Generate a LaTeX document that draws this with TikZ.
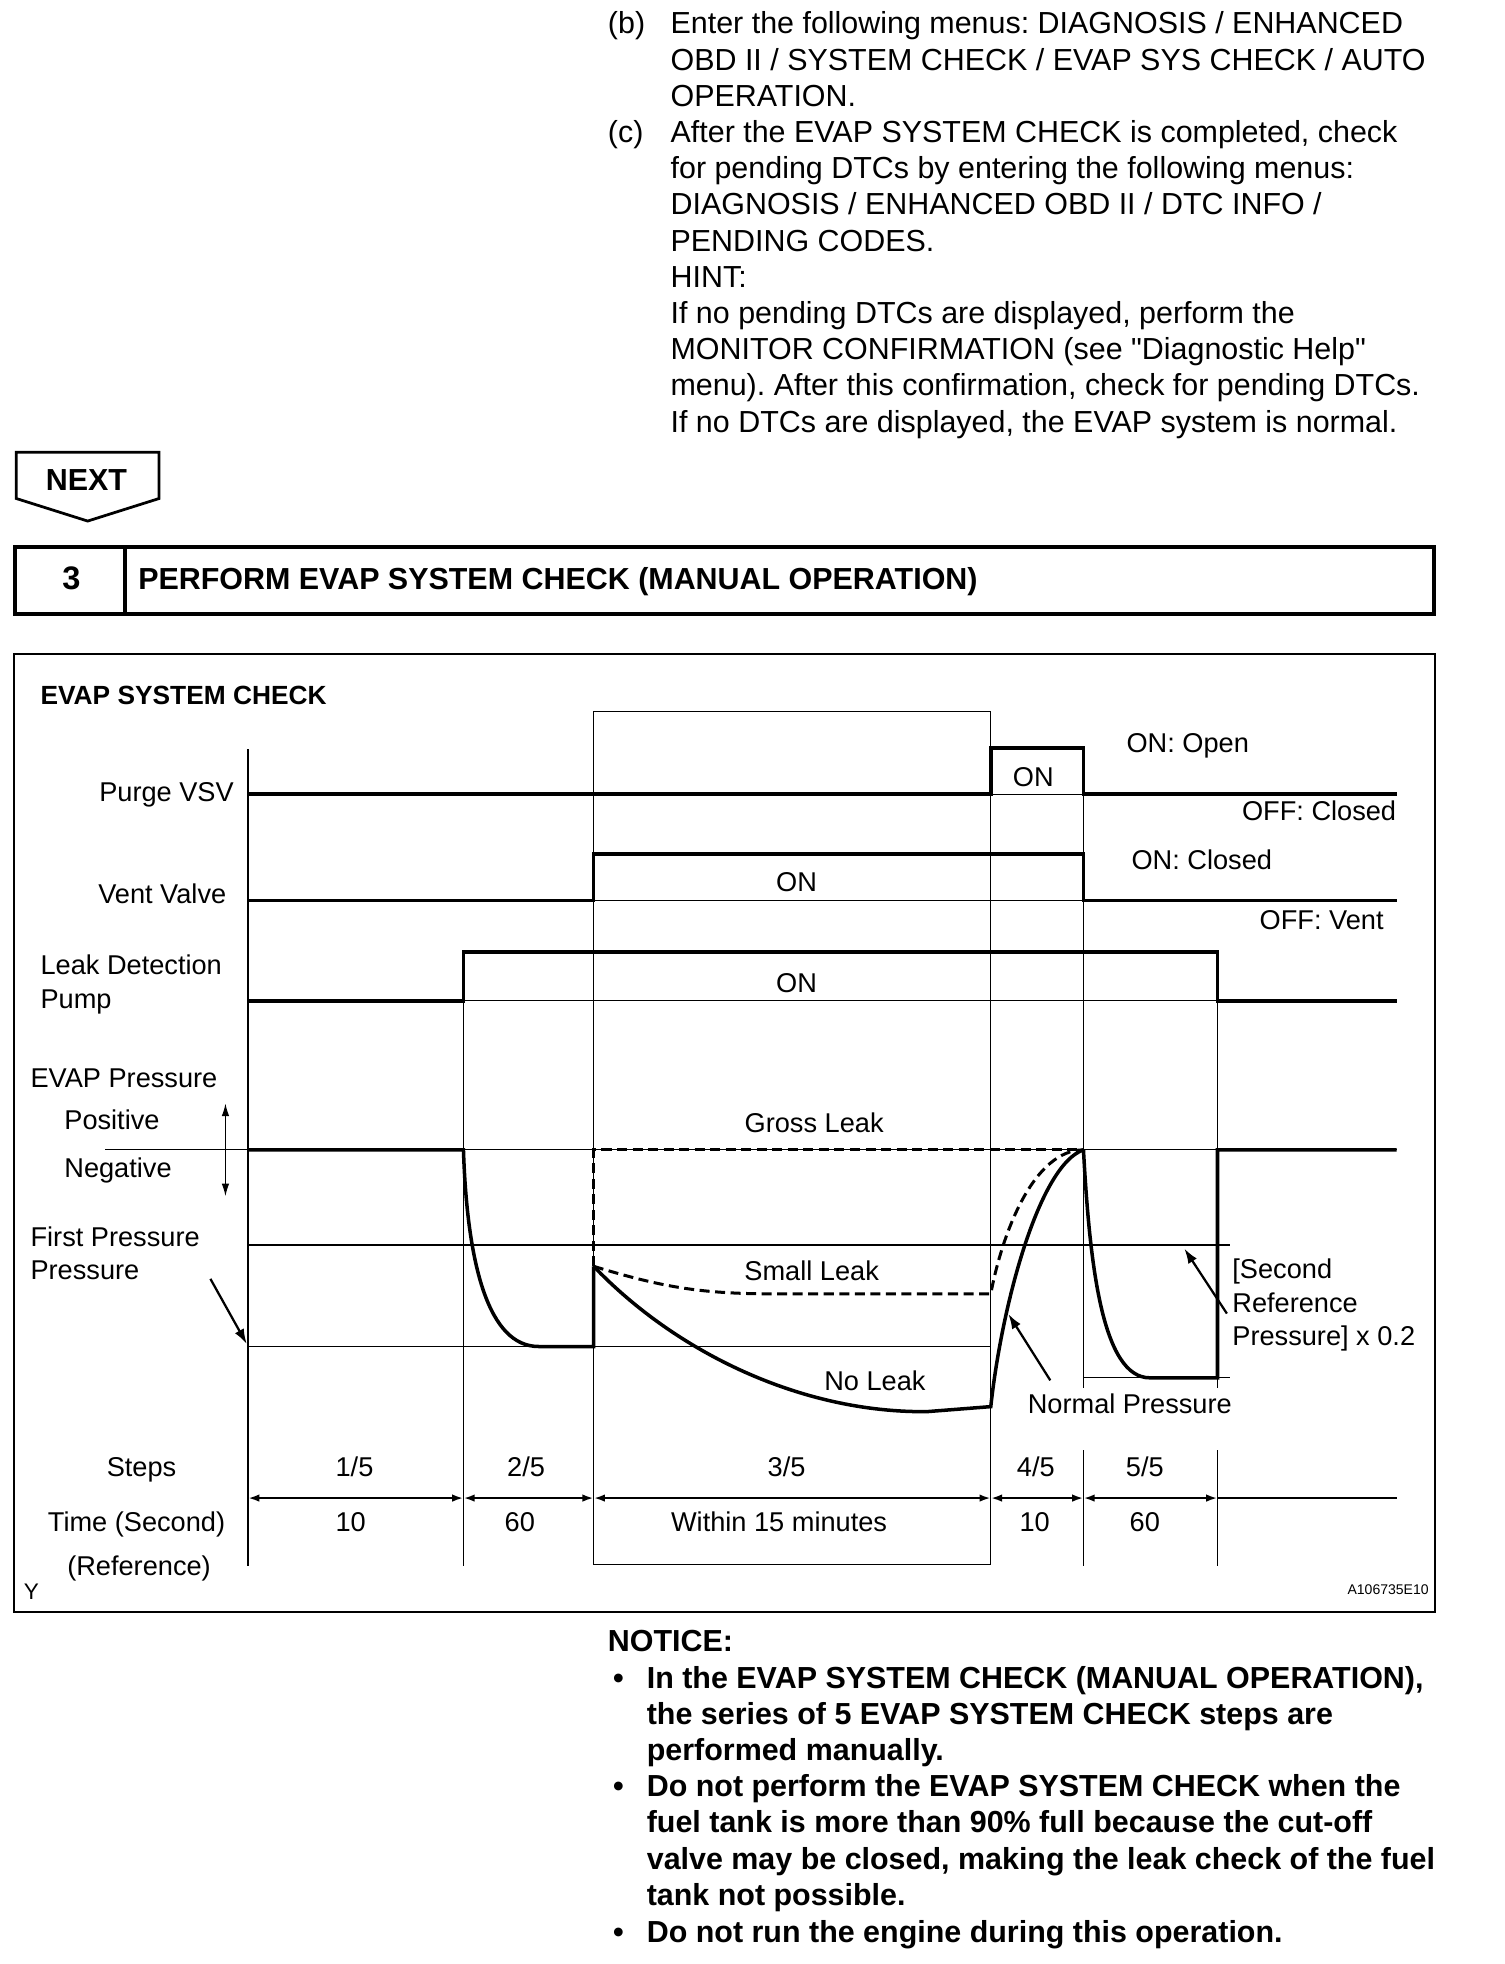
\documentclass[tikz,border=0pt]{standalone}
\usepackage{fontspec}
\setmainfont{Liberation Sans}
\usetikzlibrary{arrows.meta, positioning}
\frenchspacing

\newcommand{\bodyfont}{\fontsize{12.15}{14.45}\selectfont}
\newcommand{\lblfont}{\fontsize{10.85}{13.4}\selectfont}

\begin{document}
\begin{tikzpicture}[
  x=0.5pt, y=-0.5pt,
  txt/.style={font=\bodyfont, inner sep=0pt, anchor=base west, align=left},
  note/.style={txt, font=\bfseries\bodyfont},
  lbl/.style={font=\lblfont, inner sep=0pt, anchor=base, align=left},
  sig/.style={line width=1.4pt},
  grid/.style={line width=0.45pt},
  dsig/.style={line width=1.2pt, dash pattern=on 4pt off 2.2pt},
  frame/.style={line width=0.8pt},
  arr/.style={-{Latex[length=6pt, width=4pt]}, line width=0.9pt},
  span/.style={{Latex[length=4.5pt, width=3pt]}-{Latex[length=4.5pt, width=3pt]}, line width=1pt}
]
\useasboundingbox (0,0) rectangle (1201,1568);

% multi-line nodes sit on the baseline of their last line
\node[txt] (tagb) at (485,27) {(b)};
\node[txt] (textb) at (535,84.8) {Enter the following menus: DIAGNOSIS / ENHANCED\\OBD II / SYSTEM CHECK / EVAP SYS CHECK / AUTO\\OPERATION.};
\node[txt] (tagc) at (485,113.7) {(c)};
\node[txt] (textc) at (535,344.9) {After the EVAP SYSTEM CHECK is completed, check\\for pending DTCs by entering the following menus:\\DIAGNOSIS / ENHANCED OBD II / DTC INFO /\\PENDING CODES.\\HINT:\\If no pending DTCs are displayed, perform the\\MONITOR CONFIRMATION (see \textquotedbl Diagnostic Help\textquotedbl\\menu). After this confirmation, check for pending DTCs.\\If no DTCs are displayed, the EVAP system is normal.};

\draw[line width=1.1pt] (13,361) -- (127,361) -- (127,398) -- (70,416) -- (13,398) -- cycle;
\node[font=\bfseries\bodyfont, inner sep=0pt] (next) at (69,383) {NEXT};

\draw[line width=1.6pt] (12,437) rectangle (1145,490);
\draw[line width=1.6pt] (100,437) -- (100,490);
\node[font=\bfseries\fontsize{13}{15}\selectfont, inner sep=0pt] (stepno) at (57,462) {3};
\node[txt, font=\bfseries\bodyfont] (title) at (110,470.5) {PERFORM EVAP SYSTEM CHECK (MANUAL OPERATION)};

\draw[frame] (11,522) rectangle (1146,1287);
\node[lbl, anchor=base west, font=\bfseries\fontsize{10.5}{13}\selectfont] (chart) at (32,562.5) {EVAP SYSTEM CHECK};

\draw[grid] (198,598) -- (198,1250);
\draw[grid] (370,760) -- (370,1250);
\draw[grid] (474,568) rectangle (791,1249);
\draw[grid] (865,597) -- (865,1108);
\draw[grid] (865,1158) -- (865,1250);
\draw[grid] (972,760) -- (972,1108);
\draw[grid] (972,1158) -- (972,1250);
\draw[grid] (791,634) -- (865,634);
\draw[grid] (474,719) -- (865,719);
\draw[grid] (370,799) -- (972,799);
\draw[grid] (84,918) -- (1115,918);
\draw[grid] (198,994) -- (982,994);
\draw[grid] (198,1075) -- (791,1075);
\draw[grid] (865,1100) -- (982,1100);

\draw[sig] (198,634) -- (791,634) -- (791,597) -- (865,597) -- (865,634) -- (1115,634);
\draw[sig] (198,719) -- (474,719) -- (474,682) -- (865,682) -- (865,719) -- (1115,719);
\draw[sig] (198,799) -- (370,799) -- (370,760) -- (972,760) -- (972,799) -- (1115,799);

\node[lbl, anchor=base east] (purge) at (187,640) {Purge VSV};
\node[lbl] (purgeon) at (825,628) {ON};
\node[lbl, anchor=base west] (purgehi) at (899,601) {ON: Open};
\node[lbl, anchor=base east] (purgelo) at (1115,655) {OFF: Closed};
\node[lbl, anchor=base east] (vent) at (181,721) {Vent Valve};
\node[lbl] (venton) at (636,712) {ON};
\node[lbl, anchor=base west] (venthi) at (903,694) {ON: Closed};
\node[lbl, anchor=base east] (ventlo) at (1105,742) {OFF: Vent};
\node[lbl, anchor=base west] (pump) at (32,804.8) {Leak Detection\\Pump};
\node[lbl] (pumpon) at (636,792) {ON};

\node[lbl, anchor=base west] (evap) at (24,868) {EVAP Pressure};
\node[lbl, anchor=base west] (pos) at (51,902) {Positive};
\node[lbl, anchor=base west] (neg) at (51,940) {Negative};
\coordinate (posend) at (180,881);
\coordinate (negend) at (180,955);
\draw[{Latex[length=5pt, width=3pt]}-{Latex[length=5pt, width=3pt]}, line width=0.5pt] (posend) -- (negend);
\node[lbl, anchor=base west] (first) at (24,1021.8) {First Pressure\\Pressure};
\coordinate (firstfrom) at (168,1021);
\coordinate (firstto) at (197,1073);
\draw[arr] (firstfrom) -- (firstto);

\draw[sig] (198,918) -- (370,918) .. controls (373,1010) and (390,1075) .. (430,1075) -- (474,1075) -- (474,1011);
\draw[dsig] (474,1011) -- (474,918) -- (865,918);
\draw[dsig] (474,1011) .. controls (530,1028) and (560,1033) .. (620,1033) -- (791,1033) .. controls (800,985) and (825,918) .. (865,918);
\draw[sig] (474,1011) .. controls (540,1080) and (640,1128) .. (740,1127) -- (791,1123) .. controls (800,1040) and (830,930) .. (865,918);
\draw[sig] (865,918) .. controls (870,1010) and (880,1100) .. (918,1100) -- (972,1100) -- (972,918) -- (1115,918);

\node[lbl] (gross) at (650,904.5) {Gross Leak};
\node[lbl] (small) at (648,1022) {Small Leak};
\node[lbl] (noleak) at (698.5,1110) {No Leak};
\node[lbl] (normal) at (902,1128.6) {Normal Pressure};
\coordinate (normalfrom) at (838.5,1102);
\coordinate (normalto) at (805,1049);
\draw[arr] (normalfrom) -- (normalto);
\node[lbl, anchor=base west] (second) at (983.5,1074.4) {[Second\\Reference\\Pressure] x 0.2};
\coordinate (secondfrom) at (979.5,1048.7);
\coordinate (secondto) at (945.5,996.8);
\draw[arr] (secondfrom) -- (secondto);

\node[lbl] (steps) at (113,1179) {Steps};
\node[lbl] (s1) at (283,1179) {1/5};
\node[lbl] (s2) at (420,1179) {2/5};
\node[lbl] (s3) at (628,1179) {3/5};
\node[lbl] (s4) at (827,1179) {4/5};
\node[lbl] (s5) at (914,1179) {5/5};
\foreach \a/\b in {198/370, 370/474, 474/791, 791/865, 865/972}
  \draw[span] (\a,1196) -- (\b,1196);
\draw[line width=1pt] (972,1196) -- (1115,1196);
\node[lbl] (time) at (109,1223) {Time (Second)};
\node[lbl] (t1) at (280,1223) {10};
\node[lbl] (t2) at (415,1223) {60};
\node[lbl] (t3) at (622,1223) {Within 15 minutes};
\node[lbl] (t4) at (826,1223) {10};
\node[lbl] (t5) at (914,1223) {60};
\node[lbl] (ref) at (111,1258) {(Reference)};
\node[lbl, font=\fontsize{9}{10}\selectfont] (ymark) at (25,1277) {Y};
\node[lbl, anchor=base east, font=\fontsize{5.6}{6}\selectfont] (code) at (1141,1273) {A106735E10};

\node[note] (notice) at (485,1318.7) {NOTICE:};
\node[note] (b1) at (489,1347.7) {•};
\node[note] (n1) at (516,1405.5) {In the EVAP SYSTEM CHECK (MANUAL OPERATION),\\the series of 5 EVAP SYSTEM CHECK steps are\\performed manually.};
\node[note] (b2) at (489,1434.4) {•};
\node[note] (n2) at (516,1521.1) {Do not perform the EVAP SYSTEM CHECK when the\\fuel tank is more than 90\% full because the cut-off\\valve may be closed, making the leak check of the fuel\\tank not possible.};
\node[note] (b3) at (489,1550.7) {•};
\node[note] (n3) at (516,1550.7) {Do not run the engine during this operation.};
\end{tikzpicture}
\end{document}
